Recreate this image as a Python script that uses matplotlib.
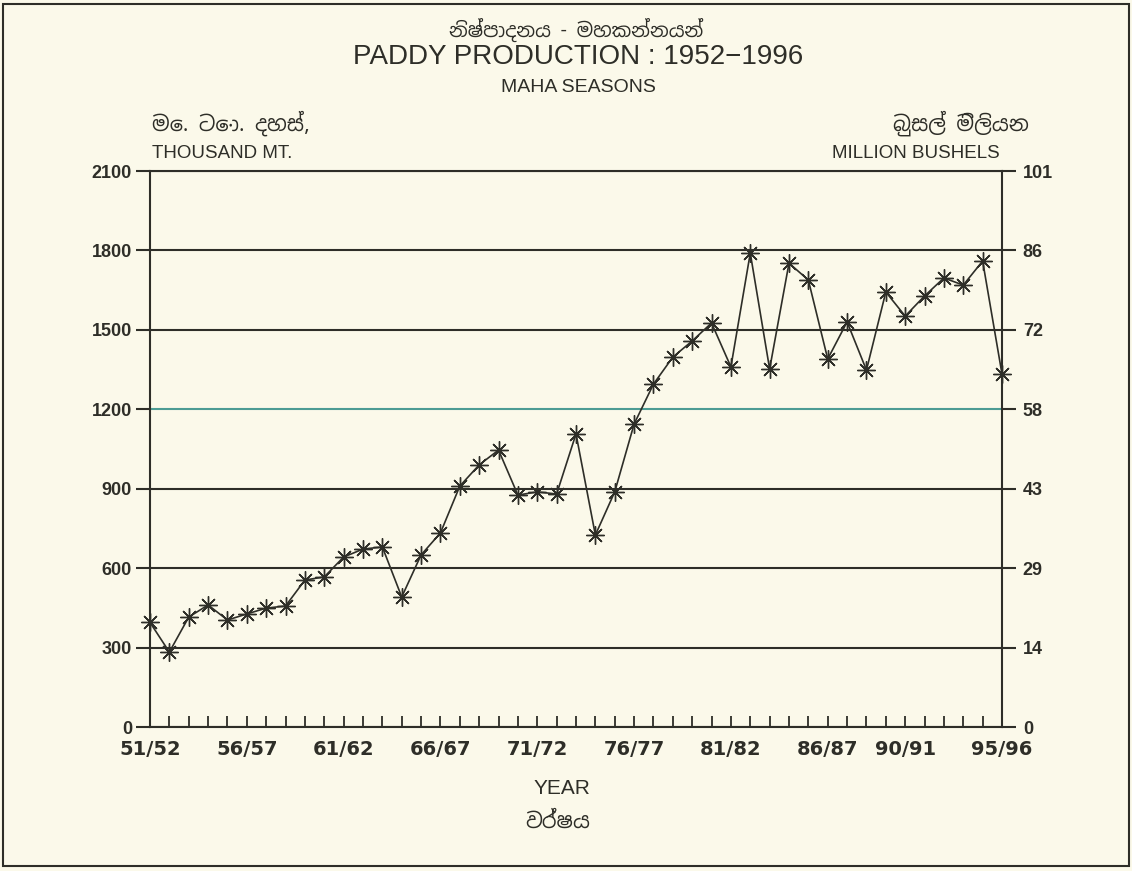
import matplotlib
matplotlib.use("Agg")
import matplotlib.pyplot as plt
from matplotlib import font_manager as fm
from matplotlib.patches import Rectangle

# Data (thousand metric tons, Maha seasons)
years = ["51/52", "52/53", "53/54", "54/55", "55/56", "56/57", "57/58", "58/59",
         "59/60", "60/61", "61/62", "62/63", "63/64", "64/65", "65/66", "66/67",
         "67/68", "68/69", "69/70", "70/71", "71/72", "72/73", "73/74", "74/75",
         "75/76", "76/77", "77/78", "78/79", "79/80", "80/81", "81/82", "82/83",
         "83/84", "84/85", "85/86", "86/87", "87/88", "88/89", "89/90", "90/91",
         "91/92", "92/93", "93/94", "94/95", "95/96"]
production = [395, 283, 415, 461, 404, 427, 449, 457, 555, 567, 642, 672, 680,
              491, 650, 733, 910, 990, 1046, 876, 888, 880, 1107, 725, 888,
              1144, 1295, 1397, 1458, 1526, 1360, 1790, 1352, 1752, 1688, 1390,
              1530, 1348, 1643, 1552, 1628, 1696, 1669, 1760, 1333]
shown_years = ["51/52", "56/57", "61/62", "66/67", "71/72", "76/77", "81/82",
               "86/87", "90/91", "95/96"]
left_ticks = [0, 300, 600, 900, 1200, 1500, 1800, 2100]
right_labels = ["0", "14", "29", "43", "58", "72", "86", "101"]

bg = "#fbf9ea"
ink = "#2e2e28"
teal = "#4c9c94"

sinhala = [f.name for f in fm.fontManager.ttflist if "Sinhala" in f.name]
si_family = sinhala[:1] + ["Noto Sans", "DejaVu Sans"]
narrow = ["Liberation Sans Narrow", "DejaVu Sans Condensed", "Liberation Sans"]
plt.rcParams["font.family"] = ["Liberation Sans", "DejaVu Sans"]

fig = plt.figure(figsize=(11.32, 8.71), dpi=100, facecolor=bg)
ax = fig.add_axes([150 / 1132, 1 - 727 / 871, 852 / 1132, 556 / 871])
ax.set_facecolor(bg)

x = list(range(len(years)))
ax.plot(x, production, color=ink, lw=1.2, marker=(8, 2, 0), markersize=13,
        markeredgewidth=1.0, markeredgecolor=ink, clip_on=False, zorder=3)

ax.set_xlim(0, len(years) - 1)
ax.set_ylim(0, 2100)

# year ticks (inward) with only some labelled
ax.set_xticks(x)
ax.set_xticklabels([y if y in shown_years else "" for y in years],
                   fontsize=14, fontweight="bold", color=ink,
                   family=["DejaVu Sans"])
ax.tick_params(axis="x", direction="in", length=8, width=1.3, color=ink, pad=9)

ax.set_yticks(left_ticks)
ax.set_yticklabels([str(v) for v in left_ticks], fontsize=13,
                   fontweight="bold", color=ink)
ax.tick_params(axis="y", direction="out", length=10, width=1.5, color=ink, pad=3)
ax.yaxis.grid(True, color=ink, lw=1.5)
ax.yaxis.get_gridlines()[4].set_color(teal)
ax.yaxis.get_major_ticks()[4].tick1line.set_color(teal)

for s in ax.spines.values():
    s.set_color(ink)
    s.set_linewidth(1.5)

ax2 = ax.twinx()
ax2.set_ylim(0, 2100)
ax2.set_yticks(left_ticks)
ax2.set_yticklabels(right_labels, fontsize=13, fontweight="bold", color=ink)
ax2.tick_params(axis="y", direction="out", length=10, width=1.5, color=ink, pad=5)
ax2.yaxis.get_major_ticks()[4].tick2line.set_color(teal)
for s in ax2.spines.values():
    s.set_visible(False)

# titles and axis captions
fig.text(576 / 1132, 1 - 30 / 871, "නිෂ්පාදනය - මහකන්නයන්", ha="center", va="center",
         fontsize=14, fontweight="bold", color=ink, family=si_family)
fig.text(578 / 1132, 1 - 57 / 871, "PADDY PRODUCTION : 1952\u22121996", ha="center",
         va="center", fontsize=20, color=ink)
fig.text(578 / 1132, 1 - 88 / 871, "MAHA SEASONS", ha="center", va="center",
         fontsize=14, color=ink)
fig.text(152 / 1132, 1 - 123 / 871, "මෙ. ටො. දහස්,", ha="left", va="center",
         fontsize=15, fontweight="bold", color=ink, family=si_family)
fig.text(152 / 1132, 1 - 153 / 871, "THOUSAND MT.", ha="left", va="center",
         fontsize=13.5, color=ink)
fig.text(893 / 1132, 1 - 123 / 871, "බුසල් මිලියන", ha="left", va="center",
         fontsize=15, fontweight="bold", color=ink, family=si_family)
fig.text(1000 / 1132, 1 - 153 / 871, "MILLION BUSHELS", ha="right", va="center",
         fontsize=13.5, color=ink)
fig.text(562 / 1132, 1 - 788 / 871, "YEAR", ha="center", va="center",
         fontsize=15, color=ink, family=narrow)
fig.text(558 / 1132, 1 - 822 / 871, "වර්ෂය", ha="center", va="center",
         fontsize=15, fontweight="bold", color=ink, family=si_family)

# page frame
fig.patches.append(Rectangle((3 / 1132, 5 / 871), 1126 / 1132, 862 / 871,
                             transform=fig.transFigure, fill=False,
                             edgecolor=ink, lw=1.5))

fig.savefig("out.png", dpi=100, facecolor=bg)
